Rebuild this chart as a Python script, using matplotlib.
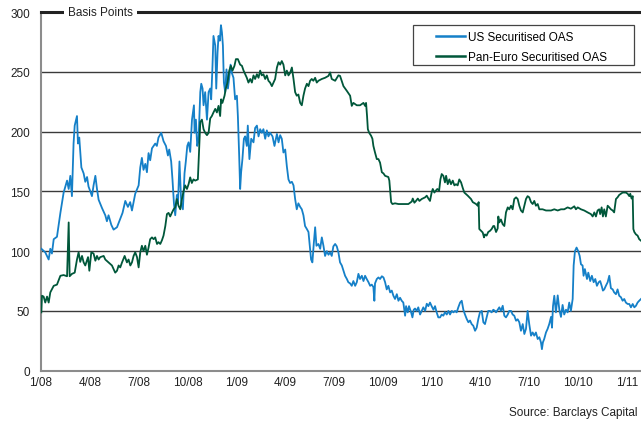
import matplotlib
matplotlib.use("Agg")
import matplotlib.pyplot as plt
from matplotlib.patches import Rectangle

# months since Jan 2008, spread in bp
us_month = [0.02, 0.26, 0.47, 0.57, 0.67, 0.78, 0.98, 1.19, 1.39, 1.60, 1.70, 1.80, 1.90, 2.00, 2.07, 2.21,
            2.27, 2.35, 2.48, 2.62, 2.72, 2.83, 2.92, 3.03, 3.13, 3.23, 3.34, 3.44, 3.54, 3.75, 3.95, 4.05,
            4.15, 4.32, 4.46, 4.67, 4.87, 5.01, 5.18, 5.34, 5.48, 5.59, 5.79, 6.00, 6.10, 6.20, 6.30, 6.41,
            6.51, 6.61, 6.71, 6.82, 7.02, 7.12, 7.22, 7.39, 7.53, 7.68, 7.80, 7.88, 8.00, 8.08, 8.17, 8.25,
            8.35, 8.42, 8.51, 8.62, 8.72, 8.82, 8.90, 8.99, 9.07, 9.17, 9.28, 9.40, 9.44, 9.52, 9.60, 9.68,
            9.79, 9.85, 9.93, 9.99, 10.09, 10.20, 10.30, 10.40, 10.46, 10.54, 10.60, 10.71, 10.77, 10.85,
            10.91, 10.99, 11.06, 11.12, 11.18, 11.24, 11.32, 11.40, 11.49, 11.57, 11.65, 11.73, 11.83,
            11.93, 12.04, 12.10, 12.18, 12.24, 12.30, 12.38, 12.47, 12.55, 12.65, 12.71, 12.81, 12.92,
            13.06, 13.16, 13.27, 13.37, 13.47, 13.57, 13.67, 13.78, 13.88, 13.98, 14.08, 14.23, 14.35,
            14.50, 14.60, 14.70, 14.80, 14.90, 15.01, 15.11, 15.21, 15.31, 15.42, 15.52, 15.62, 15.72,
            15.82, 15.93, 16.03, 16.13, 16.23, 16.34, 16.44, 16.54, 16.60, 16.68, 16.77, 16.85, 16.93,
            17.05, 17.16, 17.26, 17.36, 17.46, 17.57, 17.67, 17.77, 17.87, 17.97, 18.08, 18.18, 18.28,
            18.38, 18.49, 18.59, 18.69, 18.80, 18.89, 19.00, 19.10, 19.20, 19.31, 19.41, 19.51, 19.61,
            19.72, 19.82, 19.92, 20.02, 20.13, 20.23, 20.33, 20.43, 20.49, 20.53, 20.64, 20.74, 20.84,
            20.95, 21.05, 21.15, 21.25, 21.35, 21.46, 21.56, 21.66, 21.76, 21.87, 21.97, 22.07, 22.17,
            22.27, 22.38, 22.44, 22.54, 22.62, 22.75, 22.83, 22.91, 22.99, 23.09, 23.19, 23.30, 23.40,
            23.50, 23.61, 23.71, 23.81, 23.91, 24.01, 24.12, 24.22, 24.32, 24.42, 24.53, 24.63, 24.73,
            24.83, 24.94, 25.04, 25.14, 25.25, 25.35, 25.45, 25.55, 25.65, 25.76, 25.86, 25.96, 26.06,
            26.17, 26.27, 26.37, 26.47, 26.57, 26.68, 26.78, 26.88, 26.98, 27.09, 27.19, 27.29, 27.39,
            27.49, 27.60, 27.70, 27.80, 27.91, 27.97, 28.17, 28.27, 28.38, 28.48, 28.58, 28.69, 28.78,
            28.89, 28.99, 29.09, 29.20, 29.30, 29.40, 29.50, 29.61, 29.71, 29.81, 29.91, 30.01, 30.12,
            30.22, 30.32, 30.42, 30.53, 30.63, 30.73, 30.79, 30.85, 30.93, 31.04, 31.14, 31.24, 31.35,
            31.41, 31.47, 31.55, 31.65, 31.76, 31.86, 31.96, 32.06, 32.16, 32.27, 32.37, 32.47, 32.57,
            32.68, 32.74, 32.82, 32.92, 33.02, 33.11, 33.19, 33.29, 33.35, 33.43, 33.56, 33.64, 33.76,
            33.86, 33.97, 34.07, 34.17, 34.28, 34.37, 34.46, 34.54, 34.62, 34.72, 34.83, 34.93, 35.03,
            35.14, 35.23, 35.34, 35.44, 35.54, 35.65, 35.75, 35.85, 35.95, 36.06, 36.16, 36.26, 36.37,
            36.47, 36.57, 36.67, 36.77, 36.88]
us_oas = [102, 99, 93, 102, 98, 110, 112, 132, 149, 159, 152, 163, 146, 190, 205, 213,
          190, 195, 170, 165, 158, 162, 154, 150, 146, 155, 163, 152, 143, 136, 130, 125,
          130, 122, 118, 120, 127, 132, 142, 137, 141, 134, 148, 155, 170, 178, 168, 173,
          166, 182, 176, 186, 190, 188, 195, 199, 192, 188, 180, 185, 175, 160, 140, 130,
          147, 140, 175, 140, 135, 165, 175, 188, 191, 183, 210, 222, 199, 210, 188, 192,
          233, 240, 236, 222, 233, 210, 233, 236, 227, 255, 280, 272, 236, 266,
          280, 276, 289, 283, 272, 241, 233, 252, 236, 245, 256, 249, 245,
          227, 230, 213, 180, 152, 166, 177, 194, 196, 188, 205, 177, 194,
          191, 203, 205, 196, 202, 199, 202, 194, 201, 196, 199, 196, 188,
          198, 191, 197, 194, 182.5, 185, 171, 160, 157, 158, 155, 143.6, 135,
          140, 137, 135, 130, 121, 118.5, 116, 102, 93, 90.6, 107, 120, 104.5,
          106, 102, 111.5, 104.5, 96, 100, 97, 99, 96, 104, 106, 104, 99,
          90.6, 88, 83.6, 79.4, 76.7, 74, 73, 71, 75, 71, 74, 81, 76.7,
          79.4, 75, 79.4, 76.7, 74, 71, 72, 70, 58.5, 73, 76.7, 78, 76.7,
          79, 78, 74, 68, 71, 65.5, 67, 62.7, 60, 64, 58.5, 61, 58.5,
          57, 46, 54, 48.8, 54, 48.8, 44.6, 51, 52, 50, 53, 47, 50,
          53, 50, 56, 54, 57, 54, 51, 54, 48.8, 44.6, 44.6, 47, 46,
          49, 47, 50, 47, 50, 48.8, 50, 48.8, 53, 57, 58.5, 51, 47,
          43.2, 40.5, 42, 39, 37.6, 33.4, 36, 43.2, 48.8, 50, 40.5, 39, 44.6,
          50, 50, 48.8, 51, 50, 48.8, 53, 50, 54.3, 46, 44.6, 47, 50,
          50, 47, 46, 41.8, 43, 40.5, 33.4, 39, 30.7, 35, 50, 39, 29.3,
          32, 29.3, 32, 26.5, 28, 23.7, 18, 23.7, 26.5, 32, 35, 39, 45,
          36, 54, 62.7, 48.8, 63, 51, 45, 55, 47, 51, 48.8, 57, 50,
          60, 88, 100, 103, 100, 96, 89, 88, 79.4, 85, 76.7, 82, 75,
          79.4, 74, 76.7, 71, 74, 75, 71, 67, 68, 71, 74, 79.4, 69,
          68, 65.5, 64, 68, 62.7, 61.4, 58.5, 60, 57, 55.8, 55.8, 53, 55.8,
          53, 54.3, 57, 58.5, 60]

eu_month = [0.02, 0.06, 0.16, 0.26, 0.37, 0.47, 0.57, 0.78, 0.98, 1.19, 1.39, 1.60, 1.70, 1.76, 1.90,
            2.07, 2.21, 2.31, 2.41, 2.52, 2.62, 2.72, 2.89, 2.97, 3.09, 3.23, 3.34, 3.44, 3.54, 3.64,
            3.85, 3.95, 4.15, 4.36, 4.56, 4.67, 4.77, 4.87, 4.98, 5.14, 5.28, 5.38, 5.49, 5.59, 5.69,
            5.79, 5.90, 6.00, 6.10, 6.20, 6.30, 6.41, 6.51, 6.61, 6.71, 6.82, 6.92, 7.02, 7.13, 7.22,
            7.33, 7.43, 7.53, 7.64, 7.74, 7.84, 7.94, 8.04, 8.15, 8.25, 8.35, 8.45, 8.56, 8.66, 8.76,
            8.86, 8.97, 9.07, 9.17, 9.27, 9.37, 9.48, 9.64, 9.72, 9.79, 9.89, 9.99, 10.09, 10.20,
            10.30, 10.40, 10.50, 10.60, 10.71, 10.81, 10.91, 11.01, 11.07, 11.15, 11.28, 11.36,
            11.46, 11.57, 11.67, 11.77, 11.89, 11.98, 12.10, 12.24, 12.35, 12.45, 12.55, 12.65,
            12.75, 12.86, 12.96, 13.06, 13.16, 13.27, 13.37, 13.47, 13.57, 13.67, 13.78, 13.88,
            13.98, 14.08, 14.19, 14.29, 14.39, 14.50, 14.60, 14.70, 14.80, 14.90, 15.01, 15.11,
            15.21, 15.31, 15.42, 15.52, 15.62, 15.72, 15.82, 15.93, 16.03, 16.13, 16.23, 16.34,
            16.44, 16.54, 16.64, 16.74, 16.85, 16.95, 17.05, 17.26, 17.46, 17.67, 17.77, 17.87,
            18.08, 18.28, 18.38, 18.59, 18.80, 19.00, 19.10, 19.20, 19.41, 19.61, 19.82, 19.92,
            19.98, 20.04, 20.09, 20.17, 20.29, 20.37, 20.43, 20.53, 20.64, 20.74, 20.84, 20.95,
            21.05, 21.15, 21.35, 21.41, 21.52, 21.60, 21.76, 21.97, 22.17, 22.38, 22.58, 22.79,
            22.85, 22.95, 23.05, 23.16, 23.26, 23.40, 23.61, 23.71, 23.81, 23.91, 24.01, 24.08,
            24.18, 24.26, 24.36, 24.47, 24.55, 24.63, 24.73, 24.83, 24.90, 25.00, 25.10, 25.20,
            25.31, 25.41, 25.51, 25.61, 25.71, 25.82, 25.92, 26.02, 26.12, 26.23, 26.33, 26.43,
            26.54, 26.74, 26.84, 26.90, 26.94, 27.05, 27.15, 27.23, 27.29, 27.39, 27.49, 27.60,
            27.70, 27.80, 27.86, 27.97, 28.07, 28.11, 28.17, 28.27, 28.38, 28.48, 28.58, 28.69,
            28.78, 28.89, 28.99, 29.09, 29.20, 29.30, 29.40, 29.50, 29.61, 29.71, 29.81, 29.91,
            30.01, 30.12, 30.22, 30.32, 30.42, 30.53, 30.63, 30.83, 31.04, 31.35, 31.55, 31.76,
            31.96, 32.16, 32.37, 32.57, 32.78, 32.88, 32.99, 33.19, 33.39, 33.60, 33.80, 33.91,
            34.01, 34.11, 34.21, 34.31, 34.37, 34.46, 34.54, 34.62, 34.72, 34.83, 34.93, 35.03,
            35.14, 35.23, 35.34, 35.44, 35.54, 35.65, 35.75, 35.95, 36.06, 36.16, 36.22, 36.30,
            36.37, 36.41, 36.47, 36.57, 36.67, 36.77, 36.88]
eu_oas = [48.8, 62.7, 62, 57, 62, 57, 65.5, 71, 72, 79.4, 80, 79, 124, 79, 81,
          82, 93, 99, 91, 96, 90.6, 88, 95, 83.6, 99, 98, 92, 96, 93, 95,
          96, 93, 90.6, 88, 82, 83.6, 88, 86.4, 90.6, 96, 90.6, 93, 88, 90.6, 96,
          99, 95, 86.4, 99, 104.5, 100, 104.5, 97, 103, 110, 111.5, 110, 111.5, 106, 107.5,
          106, 109, 113, 121, 131, 132, 129, 132, 135, 136.6, 143.6, 138, 135, 143.6, 150,
          155, 152, 156, 161.7, 157, 160, 159, 160, 185, 208, 210, 202, 199, 197,
          199, 211, 213, 216, 219, 216, 221.5, 213, 227, 224, 230, 236,
          241, 251, 255, 251, 255, 260.6, 260.6, 256, 255, 251, 248, 245,
          241, 244, 241, 247, 244, 248, 245, 251, 247, 248, 244, 247,
          242.5, 241, 238, 241, 244, 253.6, 258, 256, 259, 256, 247, 251,
          247, 249, 253.6, 244, 233, 230, 231, 224, 222, 230, 236, 240,
          238, 242.5, 244, 242.5, 245, 241, 242.5, 244, 245, 246.6, 249.5, 244,
          242.5, 247, 246.6, 238, 234, 230, 221.5, 224, 222, 222, 224, 221.5,
          224, 213, 202, 199, 196.5, 194, 188, 182.5, 177, 177, 174, 166,
          165, 163, 162, 159, 141, 139.4, 140, 139.4, 139.4, 139.4, 139.4, 141.5,
          144, 140.5, 142, 144, 142, 143.6, 145, 146.4, 144, 142, 149, 152,
          149, 150.5, 152, 150.5, 160, 164.5, 163, 157.5, 163, 156, 160, 156,
          159, 155, 156, 155, 160, 157.5, 153, 149, 147.8, 146.4, 145, 143.6,
          141, 139.4, 138, 141, 118.5, 117, 115.6, 111.5, 114, 113, 116, 117,
          118.5, 121, 121, 116, 119, 129, 124, 126.5, 122.5, 121, 132.4, 136.6,
          135, 138, 135, 143.6, 145, 143.6, 138, 134, 132.4, 138, 143.6, 146,
          145, 141, 139.4, 142, 138, 139.4, 135, 135, 134, 134, 135, 134,
          135, 135, 136.6, 135.5, 137.5, 135, 136.6, 135, 134, 132.4, 131, 129,
          132.4, 129, 134, 135, 131, 136.6, 129, 135, 129, 138, 136.6, 135,
          134, 132.4, 143.6, 145, 147, 148, 149, 149, 148, 146, 148, 144,
          146, 118.5, 116, 114, 113, 110, 108.7]

tick_pos = [0, 3, 6, 9, 12, 15, 18, 21, 24, 27, 30, 33, 36]
tick_labels = ["1/08", "4/08", "7/08", "10/08", "1/09", "4/09", "7/09", "10/09",
               "1/10", "4/10", "7/10", "10/10", "1/11"]

plt.rcParams['font.family'] = ['Liberation Sans', 'DejaVu Sans']
fs = 8.5

fig = plt.figure(figsize=(6.41, 4.27), dpi=100)
ax = fig.add_axes([0.064, 0.1295, 0.936, 0.84])

for lvl in [50, 100, 150, 200, 250]:
    ax.axhline(lvl, color='#3a3a3a', lw=1.0, zorder=1)

ax.plot(us_month, us_oas, color='#1580C8', lw=1.3, label='US Securitised OAS', zorder=3)
ax.plot(eu_month, eu_oas, color='#00573A', lw=1.3, label='Pan-Euro Securitised OAS', zorder=3)

ax.set_xlim(0, 36.88)
ax.set_ylim(0, 300)
ax.set_yticks([0, 50, 100, 150, 200, 250, 300])
ax.set_xticks(tick_pos)
ax.set_xticklabels(tick_labels)
ax.tick_params(length=0, labelsize=fs, colors='#222222')
ax.tick_params(axis='y', pad=8)
ax.tick_params(axis='x', pad=4)

ax.spines['right'].set_visible(False)
ax.spines['top'].set_color('#222222')
ax.spines['top'].set_linewidth(2.2)
ax.spines['left'].set_color('#8c8c8c')
ax.spines['left'].set_linewidth(1.5)
ax.spines['bottom'].set_color('#8c8c8c')
ax.spines['bottom'].set_linewidth(1.5)

ax.text(0.045, 1.0, 'Basis Points', transform=ax.transAxes, fontsize=fs, color='#222222',
        ha='left', va='center', zorder=5,
        bbox=dict(facecolor='white', edgecolor='none', pad=3))

# legend frame drawn separately: the original box has a wide blank margin on the left
ax.add_patch(Rectangle((0.62, 0.853), 0.368, 0.111, transform=ax.transAxes,
                       facecolor='white', edgecolor='#444444', lw=0.9, zorder=4))
leg = ax.legend(loc='upper left', bbox_to_anchor=(0.658, 0.947), fontsize=fs, frameon=False,
                handlelength=2.45, handletextpad=0.25, borderpad=0, labelspacing=0.7,
                borderaxespad=0)
leg.set_zorder(5)
for line in leg.get_lines():
    line.set_linewidth(1.8)

fig.text(0.995, 0.032, 'Source: Barclays Capital', ha='right', va='center', fontsize=fs, color='#222222')

fig.savefig('out.png', dpi=100)
